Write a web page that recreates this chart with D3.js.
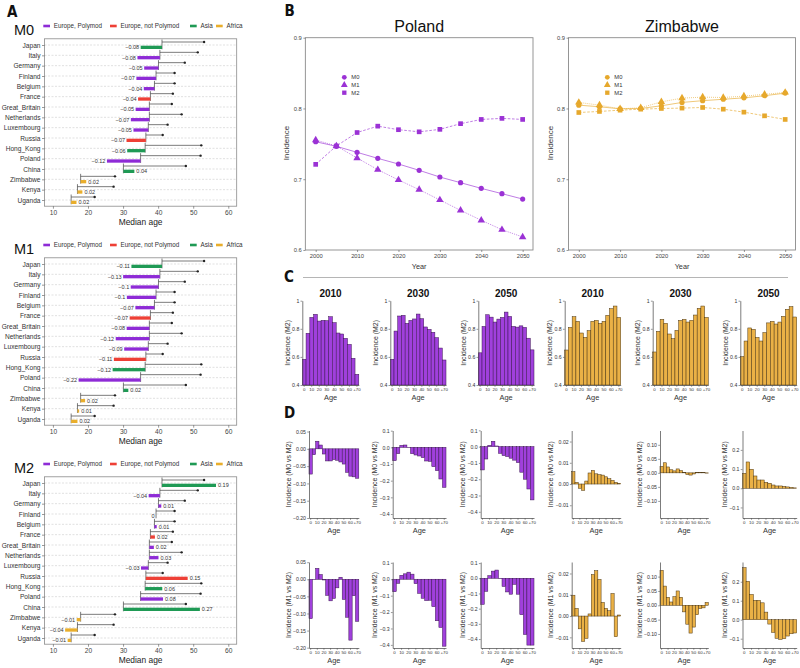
<!DOCTYPE html>
<html><head><meta charset="utf-8">
<script src="https://cdn.jsdelivr.net/npm/d3@7"></script>
<style>body{margin:0;background:#fff;} svg{display:block;}</style>
</head><body><svg id="c" width="800" height="668"></svg>
<script>
// ---------------- DATA ----------------
const countries = ["Japan","Italy","Germany","Finland","Belgium","France","Great_Britain","Netherlands","Luxembourg","Russia","Hong_Kong","Poland","China","Zimbabwe","Kenya","Uganda"];
const regionNames = ["Europe, Polymod","Europe, not Polymod","Asia","Africa"];
const regionOf = [2,0,0,0,0,1,0,0,0,1,2,0,2,3,3,3];
const medianAgeNow = [41.1,40.5,40.1,39.4,38.95,37.8,37.5,37.5,37.2,36.5,36.3,35.0,30.1,17.9,17.0,15.2];
const medianAgeFuture = [53.1,51.3,47.6,44.7,44.7,44.2,43.9,46.7,42.7,41.3,52.3,52.1,47.9,27.7,27.3,21.9];
const changeM0 = [-0.076,-0.08,-0.051,-0.07,-0.038,-0.044,-0.049,-0.066,-0.053,-0.069,-0.064,-0.12,0.039,0.02,0.0175,0.019];
const changeM1 = [-0.109,-0.131,-0.099,-0.104,-0.068,-0.074,-0.081,-0.12,-0.086,-0.114,-0.116,-0.221,0.0175,0.016,0.006,0.0225];
const changeM2 = [0.1925,-0.04,0.01,0,0.008,0.016,0.016,0.0325,-0.026,0.149,0.061,0.08,0.2725,-0.014,-0.044,-0.0125];
const ageAxisTicks = [10,20,30,40,50,60];

const years = [2000,2005,2010,2015,2020,2025,2030,2035,2040,2045,2050];
const polandM0 = [0.753,0.7465,0.738,0.7295,0.7215,0.7126,0.7031,0.6951,0.6871,0.6796,0.672];
const polandM1 = [0.7554,0.747,0.730,0.7135,0.699,0.6853,0.6707,0.656,0.642,0.6287,0.6184];
const polandM2 = [0.721,0.747,0.766,0.775,0.770,0.767,0.7705,0.7785,0.7845,0.786,0.7845];
const zimM0 = [0.8047,0.8024,0.7995,0.800,0.8038,0.8085,0.811,0.813,0.815,0.818,0.8217];
const zimM1 = [0.8085,0.8047,0.7995,0.801,0.8094,0.8146,0.816,0.8155,0.8174,0.820,0.8226];
const zimM2 = [0.7943,0.7958,0.7976,0.799,0.800,0.8005,0.8014,0.799,0.7948,0.7896,0.7845];
const incidenceTicks = [0.6,0.7,0.8,0.9];

const ageGroups = ["0","5","10","15","20","25","30","35","40","45","50","55","60","65","+70"];
const histYears = ["2010","2030","2050"];
// Panel C: incidence under M2 per age group
const polandM2_2010 = [0.583,0.768,0.881,0.903,0.855,0.860,0.858,0.886,0.844,0.770,0.763,0.732,0.689,0.590,0.476];
const polandM2_2030 = [0.583,0.784,0.891,0.896,0.839,0.860,0.870,0.905,0.872,0.813,0.796,0.775,0.737,0.663,0.578];
const polandM2_2050 = [0.629,0.817,0.900,0.883,0.848,0.869,0.881,0.919,0.888,0.817,0.812,0.821,0.810,0.733,0.650];
const zimM2_2010 = [0.649,0.810,0.886,0.853,0.770,0.739,0.787,0.853,0.860,0.839,0.853,0.896,0.943,0.962,0.881];
const zimM2_2030 = [0.635,0.782,0.867,0.839,0.763,0.730,0.789,0.860,0.867,0.848,0.860,0.898,0.946,0.962,0.881];
const zimM2_2050 = [0.602,0.713,0.806,0.796,0.739,0.713,0.773,0.842,0.853,0.834,0.848,0.889,0.939,0.958,0.884];
// Panel D row 1: M0 vs M2
const polandM0vsM2_2010 = [-0.073,-0.017,0.022,0.011,-0.015,-0.035,-0.035,-0.031,-0.033,-0.038,-0.044,-0.068,-0.079,-0.081,-0.085];
const polandM0vsM2_2030 = [-0.080,-0.038,0.012,0.014,-0.002,-0.038,-0.046,-0.052,-0.062,-0.082,-0.084,-0.116,-0.140,-0.190,-0.240];
const polandM0vsM2_2050 = [-0.143,-0.076,0.008,0.033,0.004,-0.041,-0.055,-0.061,-0.071,-0.083,-0.098,-0.157,-0.200,-0.260,-0.327];
const zimM0vsM2_2010 = [0.0058,0.0008,-0.002,-0.003,0.0014,0.0052,0.0064,0.0048,0.0044,0.0042,0.0034,0.0025,0.0017,0.0008,0.0003];
const zimM0vsM2_2030 = [0.023,0.036,0.021,0.011,0.007,0.014,0.008,0.002,-0.006,-0.008,-0.004,0.001,0.001,0.0005,-0.001];
const zimM0vsM2_2050 = [0.078,0.137,0.099,0.064,0.043,0.043,0.031,0.026,0.017,0.012,0.012,0.010,0.007,0.005,0.002];
// Panel D row 2: M1 vs M2
const polandM1vsM2_2010 = [-0.115,-0.001,0.032,0.014,-0.002,-0.047,-0.063,-0.056,-0.025,0.006,-0.059,-0.111,-0.178,-0.048,-0.123];
const polandM1vsM2_2030 = [-0.076,-0.025,0.024,0.033,0.043,0.031,-0.027,-0.086,-0.116,-0.130,-0.128,-0.167,-0.253,-0.294,-0.408];
const polandM1vsM2_2050 = [-0.172,-0.086,0.017,0.047,0.054,-0.003,-0.054,-0.090,-0.105,-0.040,-0.105,-0.240,-0.370,-0.440,-0.440];
const zimM1vsM2_2010 = [0.0098,0.0036,-0.006,-0.0119,-0.0105,0.001,0.0195,0.0213,0.0172,0.0064,0.0036,0.0025,0.0106,-0.0097,0.0005];
const zimM1vsM2_2030 = [0.122,0.067,0.028,0.0115,0.030,0.050,0.028,-0.023,-0.066,-0.097,-0.076,-0.033,-0.0115,-0.009,0.010];
const zimM1vsM2_2050 = [0.274,0.202,0.133,0.102,0.102,0.089,0.040,-0.023,-0.067,-0.098,-0.104,-0.100,-0.086,-0.074,-0.070];

// ---------------- STYLE ----------------
const FONT = '"Liberation Sans", Arial, Helvetica, sans-serif';
const NARROW = '"Liberation Sans Narrow", "DejaVu Sans Condensed", "Liberation Sans", sans-serif';
const regionColors = ["#8E2BD6","#EE4036","#1F9A55","#E9AE2B"];
const PURPLE = "#9B32D5", ORANGE = "#E6A82C";
const PURPLE_BAR = "#A040DC", ORANGE_BAR = "#EAB146";
const BAR_SCALE = 80; // age-axis years per unit of relative change

const svg = d3.select("#c").attr("font-family", FONT);

function panelLabel(t, x, y) {
  svg.append("text").attr("x", x).attr("y", y).text(t)
    .attr("font-family", NARROW).attr("font-weight", "bold").attr("font-size", 15).attr("fill", "#111");
}
panelLabel("A", 7, 17);
panelLabel("B", 284.5, 15.5);
panelLabel("C", 284, 282);
panelLabel("D", 284, 417.5);

function styleAxis(g, fs, col) {
  g.selectAll("text").attr("font-size", fs).attr("fill", col || "#444").attr("font-family", FONT);
  g.selectAll("line").attr("stroke", "#555").attr("stroke-width", 0.6);
}

// ---------------- PANEL A ----------------
const xA = d3.scaleLinear().domain([7.6, 62.4]).range([44.5, 236.7]);
function labFmt(v) {
  const r = Math.round(v * 100) / 100;
  if (r < 0) return "\u2212" + String(-r);
  return String(Math.abs(r));
}
function drawA(title, change, dy) {
  const g = svg.append("g");
  const y = d3.scalePoint().domain(countries).range([45 + dy, 200 + dy]);
  const top = 38.8 + dy, bot = 206.2 + dy;
  const [xl, xr] = xA.range();
  g.selectAll("line.grid").data(countries).join("line").attr("class", "grid")
    .attr("x1", xl).attr("x2", xr).attr("y1", d => y(d)).attr("y2", d => y(d))
    .attr("stroke", "#cccccc").attr("stroke-width", 0.6).attr("stroke-dasharray", "2,1.5");
  g.append("rect").attr("x", xl).attr("y", top).attr("width", xr - xl).attr("height", bot - top)
    .attr("fill", "none").attr("stroke", "#8a8a8a").attr("stroke-width", 0.8);
  const ax = g.append("g").attr("transform", `translate(0,${bot})`)
    .call(d3.axisBottom(xA).tickValues(ageAxisTicks).tickSize(2.5).tickSizeOuter(0).tickPadding(1.5));
  ax.select(".domain").remove();
  styleAxis(ax, 6.6, "#444");
  const ay = g.append("g").attr("transform", `translate(${xl},0)`)
    .call(d3.axisLeft(y).tickSize(2.5).tickSizeOuter(0).tickPadding(1.5));
  ay.select(".domain").remove();
  styleAxis(ay, 6.6, "#333");
  g.append("text").attr("x", (xl + xr) / 2).attr("y", 224.5 + dy).attr("text-anchor", "middle")
    .attr("font-size", 8.4).attr("fill", "#222").text("Median age");
  // title + legend
  g.append("text").attr("x", 14).attr("y", 35 + dy).attr("font-size", 14.5).attr("fill", "#111").text(title);
  const legX = [43.3, 110, 190, 216];
  regionNames.forEach((r, i) => {
    g.append("rect").attr("x", legX[i]).attr("y", 24.7 + dy).attr("width", 6.7).attr("height", 2.6).attr("fill", regionColors[i]);
    g.append("text").attr("x", legX[i] + 10.5).attr("y", 28.2 + dy).attr("font-size", 6.3).attr("fill", "#333").text(r);
  });
  const rows = countries.map((c, i) => ({ c, x0: medianAgeNow[i], x1: medianAgeFuture[i], v: change[i], col: regionColors[regionOf[i]] }));
  g.selectAll("line.seg").data(rows).join("line").attr("class", "seg")
    .attr("x1", d => xA(d.x0)).attr("x2", d => xA(d.x1)).attr("y1", d => y(d.c) - 3).attr("y2", d => y(d.c) - 3)
    .attr("stroke", "#444").attr("stroke-width", 0.7);
  g.selectAll("circle.end").data(rows).join("circle").attr("class", "end")
    .attr("cx", d => xA(d.x1)).attr("cy", d => y(d.c) - 3).attr("r", 1.2).attr("fill", "#222");
  g.selectAll("line.vert").data(rows).join("line").attr("class", "vert")
    .attr("x1", d => xA(d.x0)).attr("x2", d => xA(d.x0)).attr("y1", d => y(d.c) - 5.5).attr("y2", d => y(d.c) + 4.3)
    .attr("stroke", "#444").attr("stroke-width", 0.7);
  g.selectAll("rect.bar").data(rows).join("rect").attr("class", "bar")
    .attr("x", d => xA(Math.min(d.x0, d.x0 + d.v * BAR_SCALE)))
    .attr("width", d => Math.abs(xA(d.x0 + d.v * BAR_SCALE) - xA(d.x0)))
    .attr("y", d => y(d.c) + 0.7).attr("height", 3.3).attr("fill", d => d.col);
  g.selectAll("text.lab").data(rows).join("text").attr("class", "lab")
    .attr("x", d => d.v > 0 ? xA(d.x0 + d.v * BAR_SCALE) + 2 : xA(d.x0 + d.v * BAR_SCALE) - 1.5)
    .attr("y", d => y(d.c) + 4.3).attr("text-anchor", d => d.v > 0 ? "start" : "end")
    .attr("font-size", 5.5).attr("fill", "#333").text(d => labFmt(d.v));
}
drawA("M0", changeM0, 0);
drawA("M1", changeM1, 219);
drawA("M2", changeM2, 438);

// ---------------- PANEL B ----------------
function drawB(name, seriesVals, colour, xr, legendX) {
  const g = svg.append("g");
  const x = d3.scaleLinear().domain([1997.5, 2052.5]).range(xr);
  const y = d3.scaleLinear().domain([0.6, 0.9]).range([250, 37.7]);
  g.append("rect").attr("x", xr[0]).attr("y", 37.7).attr("width", xr[1] - xr[0]).attr("height", 250 - 37.7)
    .attr("fill", "none").attr("stroke", "#8a8a8a").attr("stroke-width", 0.9);
  const ax = g.append("g").attr("transform", "translate(0,250)")
    .call(d3.axisBottom(x).tickValues(d3.range(2000, 2051, 10)).tickFormat(d3.format("d")).tickSize(2).tickSizeOuter(0).tickPadding(1.5));
  ax.select(".domain").remove(); styleAxis(ax, 5.8, "#444");
  const ay = g.append("g").attr("transform", `translate(${xr[0]},0)`)
    .call(d3.axisLeft(y).tickValues(incidenceTicks).tickFormat(d3.format(".1f")).tickSize(2).tickSizeOuter(0).tickPadding(1.5));
  ay.select(".domain").remove(); styleAxis(ay, 5.8, "#444");
  g.append("text").attr("x", (xr[0] + xr[1]) / 2).attr("y", 32).attr("text-anchor", "middle").attr("font-size", 16).attr("fill", "#111").text(name);
  g.append("text").attr("x", (xr[0] + xr[1]) / 2).attr("y", 268.5).attr("text-anchor", "middle").attr("font-size", 7.3).attr("fill", "#333").text("Year");
  g.append("text").attr("transform", `translate(${xr[0] - 16},143) rotate(-90)`).attr("text-anchor", "middle").attr("font-size", 8).attr("fill", "#333").text("Incidence");
  const defs = [
    { key: "M0", vals: seriesVals[0], sym: d3.symbolCircle, size: 21, dash: null },
    { key: "M1", vals: seriesVals[1], sym: d3.symbolTriangle, size: 24, dash: "0.9,1.1" },
    { key: "M2", vals: seriesVals[2], sym: d3.symbolSquare, size: 22, dash: "2.6,1.6" }
  ];
  const line = d3.line().x((d, i) => x(years[i])).y(d => y(d));
  defs.forEach((s, k) => {
    g.append("path").attr("d", line(s.vals)).attr("fill", "none").attr("stroke", colour).attr("stroke-opacity", 0.8)
      .attr("stroke-width", 0.8).attr("stroke-dasharray", s.dash);
    g.selectAll(null).data(s.vals).join("path")
      .attr("transform", (d, i) => `translate(${x(years[i])},${y(d)})`)
      .attr("d", d3.symbol(s.sym, s.size)).attr("fill", colour);
    const ly = 77.3 + k * 7.7;
    g.append("path").attr("transform", `translate(${legendX},${ly})`).attr("d", d3.symbol(s.sym, s.size * 0.85)).attr("fill", colour);
    g.append("text").attr("x", legendX + 7).attr("y", ly + 2).attr("font-size", 5.8).attr("fill", "#333").text(s.key);
  });
}
drawB("Poland", [polandM0, polandM1, polandM2], PURPLE, [305.35, 533], 344.3);
drawB("Zimbabwe", [zimM0, zimM1, zimM2], ORANGE, [568.5, 795.5], 607.3);

// separator
svg.append("line").attr("x1", 303).attr("x2", 788).attr("y1", 277.5).attr("y2", 277.5).attr("stroke", "#b5b5b5").attr("stroke-width", 1);

// ---------------- PANELS C and D ----------------
function drawHist(vals, o) {
  const g = svg.append("g");
  const x = d3.scaleBand().domain(ageGroups).range([o.axisX, o.rightX]).padding(0);
  const y = d3.scaleLinear().domain(o.domain).range([o.yBot, o.yTop]);
  const base = o.base;
  g.selectAll("rect").data(vals).join("rect")
    .attr("x", (d, i) => x(ageGroups[i])).attr("width", x.bandwidth())
    .attr("y", d => y(Math.max(d, base))).attr("height", d => Math.abs(y(d) - y(base)))
    .attr("fill", o.fill).attr("stroke", o.stroke).attr("stroke-width", 0.5);
  const ax = g.append("g").attr("transform", `translate(0,${o.yBot})`)
    .call(d3.axisBottom(x).tickValues(ageGroups.filter((d, i) => i % 2 === 0)).tickSize(1.8).tickSizeOuter(0).tickPadding(1));
  ax.select(".domain").attr("stroke", "#444").attr("stroke-width", 0.7);
  styleAxis(ax, 4.4, "#333");
  const ay = g.append("g").attr("transform", `translate(${o.axisX},0)`)
    .call(d3.axisLeft(y).tickValues(o.ticks).tickFormat(o.fmt).tickSize(1.8).tickSizeOuter(0).tickPadding(1.2));
  ay.select(".domain").attr("stroke", "#444").attr("stroke-width", 0.7);
  styleAxis(ay, 5.2, "#333");
  const bb = ay.node().getBBox();
  g.append("text").attr("transform", `translate(${o.axisX + bb.x - 2.2},${(o.yTop + o.yBot) / 2}) rotate(-90)`)
    .attr("text-anchor", "middle").attr("font-size", 6.9).attr("fill", "#333").text(o.ylabel);
  g.append("text").attr("x", (o.axisX + o.rightX) / 2).attr("y", o.yBot + 15.2).attr("text-anchor", "middle")
    .attr("font-size", 7.4).attr("fill", "#333").text("Age");
  if (o.title) g.append("text").attr("x", (o.axisX + o.rightX) / 2).attr("y", 296.7).attr("text-anchor", "middle")
    .attr("font-size", 10).attr("font-weight", "bold").attr("fill", "#111").text(o.title);
}
const rightX = [358.8, 446, 534, 620.7, 708.3, 796.7];
const cAxisX = [302.3, 390.3, 478.3, 564.7, 652.7, 740.3];
const dAxisX = [309, 392.7, 480.7, 571.7, 660, 742.5];
const pStyle = { fill: PURPLE_BAR, stroke: "#3a1450" };
const zStyle = { fill: ORANGE_BAR, stroke: "#4a3410" };
const cVals = [polandM2_2010, polandM2_2030, polandM2_2050, zimM2_2010, zimM2_2030, zimM2_2050];
cVals.forEach((v, i) => {
  const st = i < 3 ? pStyle : zStyle;
  drawHist(v, { axisX: cAxisX[i], rightX: rightX[i], yTop: 300.7, yBot: 385, domain: [0.4, 1], base: 0.4,
    ticks: [0.4, 0.6, 0.8, 1], fmt: d => d === 1 ? "1" : d3.format(".1f")(d), fill: st.fill, stroke: st.stroke,
    ylabel: "Incidence (M2)", title: histYears[i % 3] });
});
const f2 = d3.format(".2f"), f1 = d3.format(".1f");
const dSpecs = [
  { ticks: [-0.2, -0.15, -0.1, -0.05, 0, 0.05], fmt: f2 },
  { ticks: [-0.4, -0.3, -0.2, -0.1, 0, 0.1], fmt: f1 },
  { ticks: [-0.4, -0.3, -0.2, -0.1, 0, 0.1], fmt: f1 },
  { ticks: [-0.01, 0, 0.01, 0.02], fmt: f2 },
  { ticks: [-0.1, -0.05, 0, 0.05, 0.1], fmt: f2 },
  { ticks: [-0.1, 0, 0.1, 0.2], fmt: f1 }
];
const dRow1 = [polandM0vsM2_2010, polandM0vsM2_2030, polandM0vsM2_2050, zimM0vsM2_2010, zimM0vsM2_2030, zimM0vsM2_2050];
const dRow2 = [polandM1vsM2_2010, polandM1vsM2_2030, polandM1vsM2_2050, zimM1vsM2_2010, zimM1vsM2_2030, zimM1vsM2_2050];
const dDom1 = [[-0.2, 0.053], [-0.424, 0.101], [-0.438, 0.099], [-0.016, 0.0252], [-0.161, 0.151], [-0.155, 0.301]];
const dDom2 = [[-0.201, 0.0506], [-0.419, 0.105], [-0.459, 0.107], [-0.015, 0.0254], [-0.149, 0.151], [-0.149, 0.304]];
dRow1.forEach((v, i) => {
  const st = i < 3 ? pStyle : zStyle;
  drawHist(v, { axisX: dAxisX[i], rightX: rightX[i], yTop: 430.5, yBot: 518, domain: dDom1[i], base: 0,
    ticks: dSpecs[i].ticks, fmt: dSpecs[i].fmt, fill: st.fill, stroke: st.stroke, ylabel: "Incidence (M0 vs M2)" });
});
dRow2.forEach((v, i) => {
  const st = i < 3 ? pStyle : zStyle;
  drawHist(v, { axisX: dAxisX[i], rightX: rightX[i], yTop: 562, yBot: 648, domain: dDom2[i], base: 0,
    ticks: dSpecs[i].ticks, fmt: dSpecs[i].fmt, fill: st.fill, stroke: st.stroke, ylabel: "Incidence (M1 vs M2)" });
});
</script></body></html>
